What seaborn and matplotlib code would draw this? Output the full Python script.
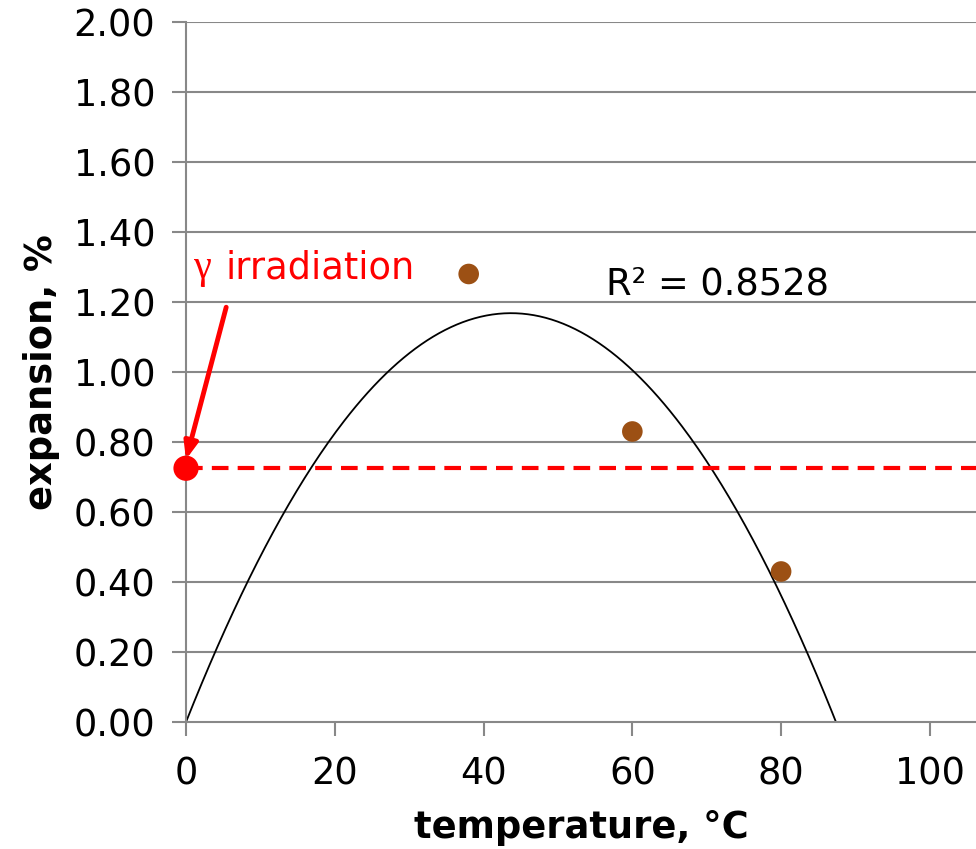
import numpy as np
import pandas as pd
import seaborn as sns
import matplotlib.pyplot as plt

# data
temps = [38, 60, 80]
expansion = [1.28, 0.83, 0.43]
gamma_temp = [0]
gamma_exp = [0.725]
r2_label = "R² = 0.8528"
x_ticks = [0, 20, 40, 60, 80, 100]
y_ticks = [0.0, 0.2, 0.4, 0.6, 0.8, 1.0, 1.2, 1.4, 1.6, 1.8, 2.0]

sns.set_style("white")
plt.rcParams['font.family'] = ['DejaVu Sans']
plt.rcParams['text.color'] = 'black'
plt.rcParams['axes.labelcolor'] = 'black'
plt.rcParams['xtick.labelcolor'] = 'black'
plt.rcParams['ytick.labelcolor'] = 'black'

# polynomial trendline (order 2, intercept set to 0)
X = np.column_stack([temps, np.square(temps)])
coef = np.linalg.lstsq(X, np.array(expansion), rcond=None)[0]
xs = np.linspace(0, 106, 400)
trend = pd.DataFrame({'t': xs, 'e': coef[0] * xs + coef[1] * xs ** 2})

fig = plt.figure(figsize=(9.76, 8.49), dpi=100)
ax = fig.add_axes([0.1906, 0.1496, 0.8094, 0.8245])

grey = '#888888'
for y in y_ticks[1:]:
    ax.axhline(y, color=grey, lw=1.5, zorder=0)

sns.lineplot(data=trend, x='t', y='e', color='black', lw=1.3, ax=ax, zorder=2)
ax.axhline(gamma_exp[0], color='#FF0000', lw=3, ls=(0, (4, 2.2)), zorder=3)
sns.scatterplot(x=temps, y=expansion, color='#9C5014', s=220, edgecolor='none', ax=ax, zorder=4)
sns.scatterplot(x=gamma_temp, y=gamma_exp, color='#FF0000', s=330, edgecolor='none', ax=ax,
                zorder=5, clip_on=False)

ax.annotate('', xy=(0.0, 0.75), xytext=(5.4, 1.185),
            arrowprops=dict(arrowstyle='-|>,head_length=1.0,head_width=0.4', color='#FF0000',
                            lw=3.5, shrinkA=0, shrinkB=0), zorder=6)
ax.text(1.1, 1.268, 'γ', color='#FF0000', fontsize=29, family='Liberation Serif', va='baseline')
ax.text(5.3, 1.268, 'irradiation', color='#FF0000', fontsize=26.5, va='baseline')
ax.text(56.5, 1.22, r2_label, fontsize=26.5, va='baseline')

ax.set_xlim(0, 106.2)
ax.set_ylim(0, 2.0)
ax.set_xticks(x_ticks)
ax.set_yticks(y_ticks)
ax.set_yticklabels([f'{v:.2f}' for v in y_ticks])
ax.tick_params(axis='both', direction='out', length=10, width=1.5, color=grey,
               labelsize=26.5, pad=12, left=True, bottom=True)
ax.tick_params(axis='x', pad=14)
for s in ['top', 'right']:
    ax.spines[s].set_visible(False)
for s in ['left', 'bottom']:
    ax.spines[s].set_color(grey)
    ax.spines[s].set_linewidth(1.5)

ax.set_xlabel('temperature, °C', fontsize=26.5, fontweight='bold', labelpad=12)
ax.set_ylabel('expansion, %', fontsize=26.5, fontweight='bold', labelpad=10)

fig.savefig('out.png', dpi=100)
